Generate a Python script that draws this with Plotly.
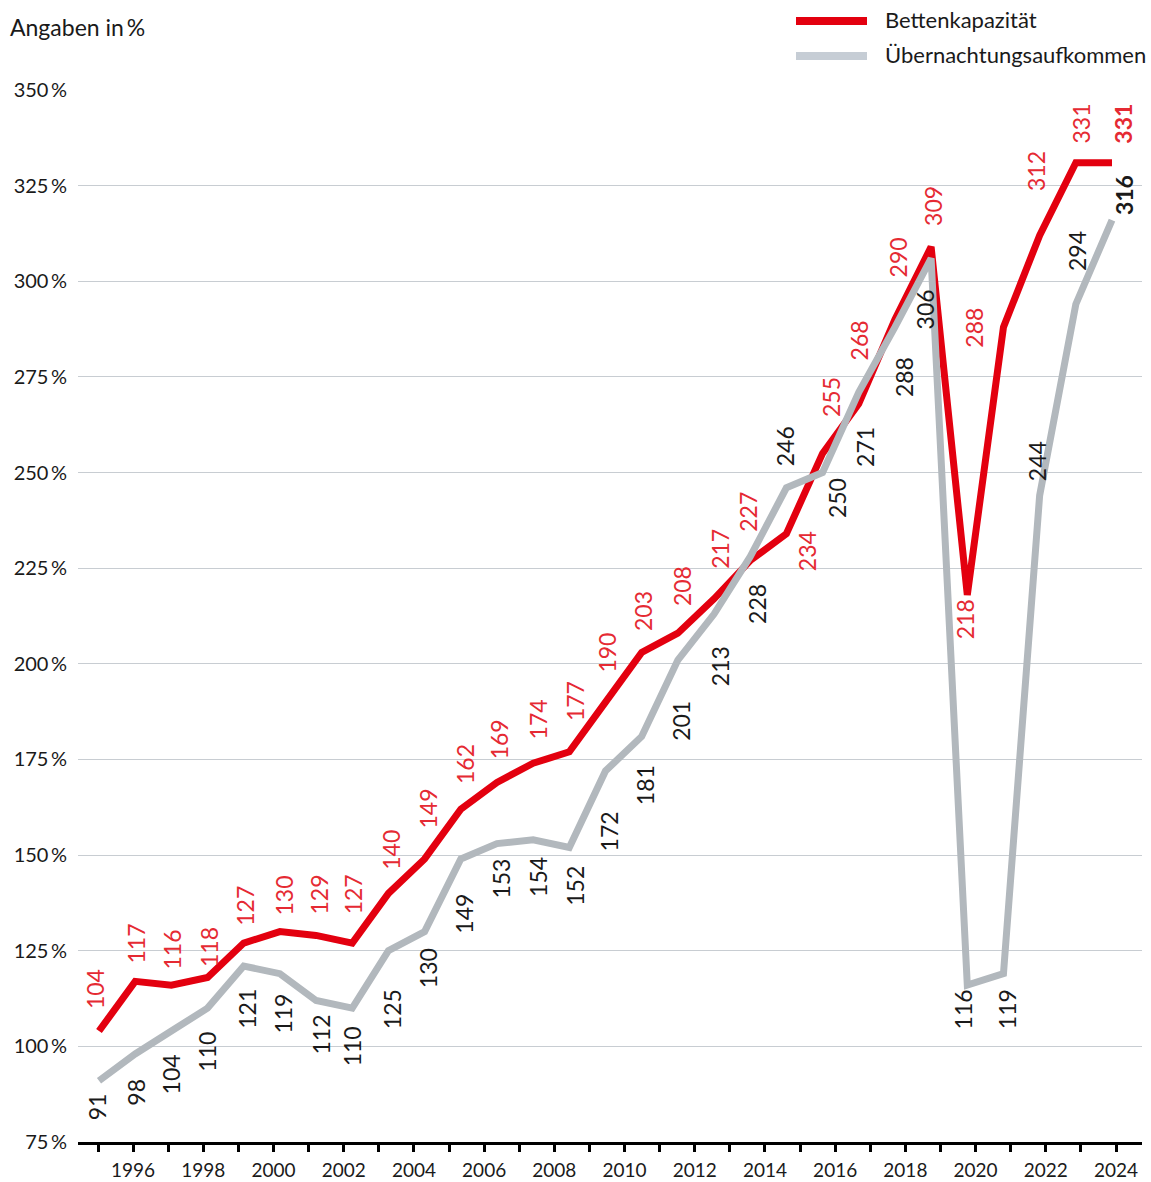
import plotly.graph_objects as go

# ---------------- data ----------------
years = list(range(1996, 2025))
betten = [104, 117, 116, 118, 127, 130, 129, 127, 140, 149, 162, 169, 174, 177, 190,
          203, 208, 217, 227, 234, 255, 268, 290, 309, 218, 288, 312, 331, 331]
uebern = [91, 98, 104, 110, 121, 119, 112, 110, 125, 130, 149, 153, 154, 152, 172,
          181, 201, 213, 228, 246, 250, 271, 288, 306, 116, 119, 244, 294, 316]
tick_years = list(range(1995, 2025))
tick_labels = [str(y) if y % 2 == 0 else "" for y in tick_years]
y_ticks = [75, 100, 125, 150, 175, 200, 225, 250, 275, 300, 325, 350]

series_names = ["Bettenkapazität", "Übernachtungsaufkommen"]

# ---------------- styling / layout ----------------
W, H = 1151, 1182
ML, MR, MT, MB = 78, 9, 90, 40
PW = W - ML - MR
PH = H - MT - MB

RED = "#e3000f"
RED_TXT = "#e52a33"
GREY = "#b2b8bd"
GREY_LEG = "#c6cdd5"
TXT = "#1a1a1a"
FONT = "Lato"

# label placement: (mode, gap px, x shift px)
red_pos = [("above", 23, -4), ("above", 19, 1), ("above", 17, 1), ("above", 11, 1), ("above", 18, 1),
           ("above", 17, 4), ("above", 22, 3), ("above", 30, 1), ("above", 25, 3), ("above", 31, 3),
           ("above", 26, 4), ("above", 24, 2), ("above", 25, 5), ("above", 32, 5), ("above", 30, 2),
           ("above", 22, 2), ("above", 28, 4), ("above", 31, 6), ("above", 30, -3), ("below", -2, 20),
           ("above", 37, 9), ("above", 44, 0), ("above", 43, 3), ("above", 22, 2), ("below", 5, -2),
           ("left", 15, 0), ("above", 45, -3), ("above", 20, 5), ("above", 20, 11)]
grey_pos = [("below", 14, -2), ("below", 26, 0), ("below", 24, 0), ("below", 25, 0), ("below", 24, 3),
            ("below", 21, 3), ("below", 15, 5), ("below", 19, 0), ("below", 39, 3), ("below", 18, 3),
            ("below", 36, 3), ("below", 16, 4), ("below", 18, 5), ("below", 19, 6), ("below", 42, 3),
            ("below", 30, 3), ("below", 42, 3), ("below", 33, 6), ("below", 28, 6), ("above", 23, -2),
            ("below", 7, 14), ("below", 36, 6), ("below", 31, 9), ("below", 32, -6), ("below", 5, -4),
            ("below", 16, 3), ("above", 15, -3), ("above", 34, 1), ("above", 6, 12)]

# data axis: first point at px 99, last at px 1112 (within plot area from 78 to 1142)
X_FIRST, X_LAST = 99, 1112
data_scale = (X_LAST - X_FIRST) / (years[-1] - years[0])
x_range = [years[0] - (X_FIRST - ML) / data_scale, years[-1] + (ML + PW - X_LAST) / data_scale]
# tick axis: 1995 tick at px 98, 2024 tick at px 1116
tick_scale = (1116 - 98) / (tick_years[-1] - tick_years[0])
x2_range = [tick_years[0] - (98 - ML) / tick_scale, tick_years[-1] + (ML + PW - 1116) / tick_scale]


def px_x(p):
    return (p - ML) / PW


def px_y(p):
    return (MT + PH - p) / PH


fig = go.Figure()
fig.add_trace(go.Scatter(x=years, y=betten, mode="lines", name=series_names[0],
                         line=dict(color=RED, width=7), showlegend=False))
fig.add_trace(go.Scatter(x=years, y=uebern, mode="lines", name=series_names[1],
                         line=dict(color=GREY, width=7), showlegend=False))

annotations = []


def add_labels(values, positions, color, last_bold=True):
    n = len(values)
    for i, (yr, v, (mode, gap, dx)) in enumerate(zip(years, values, positions)):
        txt = f"<b>{v}</b>" if (last_bold and i == n - 1) else str(v)
        a = dict(x=yr, y=v, xref="x", yref="y", text=txt, showarrow=False, textangle=-90,
                 font=dict(family=FONT, size=23, color=color), borderpad=0, borderwidth=0)
        if mode == "above":
            a.update(xanchor="center", yanchor="bottom", yshift=gap - 1, xshift=dx)
        elif mode == "below":
            a.update(xanchor="center", yanchor="top", yshift=-(gap - 1), xshift=dx)
        else:
            a.update(xanchor="right", yanchor="middle", xshift=-gap)
        annotations.append(a)


add_labels(betten, red_pos, RED_TXT)
add_labels(uebern, grey_pos, TXT)

# unit note
annotations.append(dict(x=px_x(8), y=px_y(27), xref="paper", yref="paper", text="Angaben in\u2009%",
                        showarrow=False, xanchor="left", yanchor="middle",
                        font=dict(family=FONT, size=23, color=TXT)))

# custom legend
shapes = []
for name, col, py in [(series_names[0], RED, 21), (series_names[1], GREY_LEG, 56)]:
    shapes.append(dict(type="line", xref="paper", yref="paper", x0=px_x(796), x1=px_x(867),
                       y0=px_y(py), y1=px_y(py), line=dict(color=col, width=8)))
    annotations.append(dict(x=px_x(883), y=px_y(py - 2), xref="paper", yref="paper", text=name,
                            showarrow=False, xanchor="left", yanchor="middle",
                            font=dict(family=FONT, size=22, color=TXT)))

fig.update_layout(
    width=W, height=H,
    margin=dict(l=ML, r=MR, t=MT, b=MB, pad=0, autoexpand=False),
    paper_bgcolor="white", plot_bgcolor="white",
    font=dict(family=FONT, color=TXT),
    annotations=annotations, shapes=shapes,
    xaxis=dict(range=x_range, showticklabels=False, ticks="", showgrid=False,
               zeroline=False, showline=False, fixedrange=True, automargin=False),
    xaxis2=dict(range=x2_range, overlaying="x", anchor="y", side="bottom",
                tickmode="array", tickvals=tick_years, ticktext=tick_labels,
                ticks="outside", ticklen=7, tickwidth=2.5, tickcolor="black",
                showline=True, linecolor="black", linewidth=3,
                showgrid=False, zeroline=False, automargin=False,
                tickfont=dict(family=FONT, size=19, color=TXT), ticklabelstandoff=2),
    yaxis=dict(range=[75, 350], tickmode="array", tickvals=y_ticks,
               ticktext=[f"{t}\u2009%" for t in y_ticks],
               showgrid=True, gridcolor="#c8cdd2", gridwidth=1, automargin=False,
               zeroline=False, showline=False, ticks="",
               tickfont=dict(family=FONT, size=20, color=TXT), ticklabelstandoff=10),
)

# invisible anchor trace so the tick axis is rendered
fig.add_trace(go.Scatter(x=[tick_years[0], tick_years[-1]], y=[None, None], xaxis="x2",
                         mode="lines", showlegend=False, hoverinfo="skip"))

fig.write_html("out.html", config={"displayModeBar": False},
               post_script="document.body.style.margin='0';document.body.style.overflow='hidden';")
